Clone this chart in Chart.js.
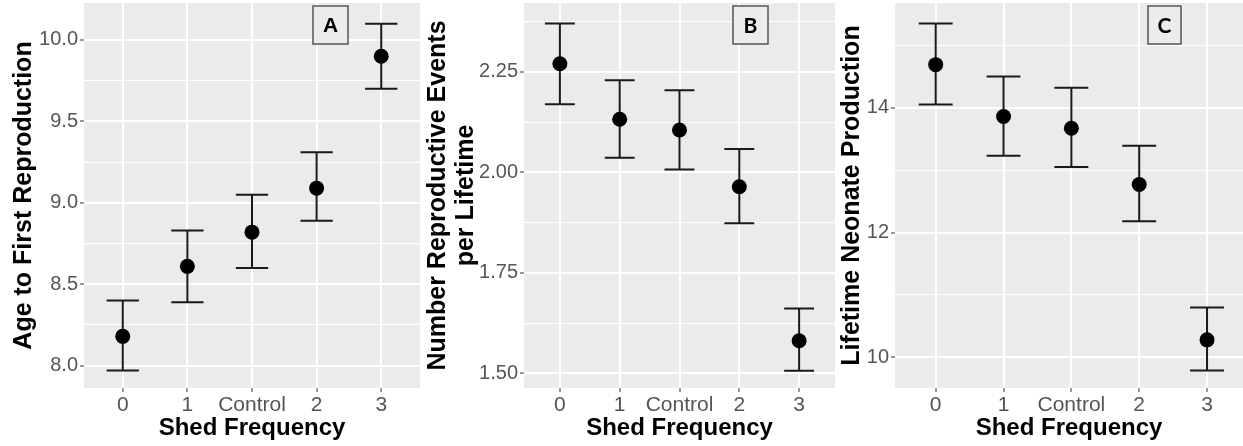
<!DOCTYPE html>
<html>
<head>
<meta charset="utf-8">
<script src="https://cdn.jsdelivr.net/npm/chart.js@4"></script>
<style>
  body { margin: 0; background: #fff; }
  .panel { position: absolute; top: 0; height: 446px; }
</style>
</head>
<body>
<div class="panel" style="left:0;width:420px"><canvas id="graphA"></canvas></div>
<div class="panel" style="left:420px;width:415px"><canvas id="graphB"></canvas></div>
<div class="panel" style="left:835px;width:408px"><canvas id="graphC"></canvas></div>
<script>
// groups on the x axis
const categories = ['0', '1', 'Control', '2', '3'];

// A - age to first reproduction (mean, upper and lower error bar)
const ageMean  = [8.18, 8.61, 8.82, 9.09, 9.90];
const ageUpper = [8.40, 8.83, 9.05, 9.31, 10.10];
const ageLower = [7.97, 8.39, 8.60, 8.89, 9.70];
const ageTicks = [8.0, 8.5, 9.0, 9.5, 10.0];
const ageMinor = [8.25, 8.75, 9.25, 9.75];

// B - reproductive events per lifetime
const eventsMean  = [2.270, 2.132, 2.105, 1.964, 1.581];
const eventsUpper = [2.370, 2.229, 2.204, 2.058, 1.661];
const eventsLower = [2.169, 2.036, 2.007, 1.873, 1.506];
const eventsTicks = [1.50, 1.75, 2.00, 2.25];
const eventsMinor = [1.625, 1.875, 2.125, 2.375];

// C - lifetime neonate production
const neonateMean  = [14.69, 13.86, 13.67, 12.77, 10.28];
const neonateUpper = [15.35, 14.50, 14.32, 13.39, 10.80];
const neonateLower = [14.05, 13.23, 13.05, 12.18, 9.79];
const neonateTicks = [10, 12, 14];
const neonateMinor = [11, 13, 15];

const FONT = "'Liberation Sans', Arial, sans-serif";

// grey panel, error bars and the letter box
const panelPlugin = {
  id: 'panel',
  beforeDraw(chart) {
    const a = chart.chartArea, ctx = chart.ctx;
    ctx.save();
    ctx.fillStyle = '#ebebeb';
    ctx.fillRect(a.left, a.top, a.right - a.left, a.bottom - a.top);
    ctx.restore();
  },
  beforeDatasetsDraw(chart, args, opts) {
    const xs = chart.scales.x, ys = chart.scales.y, ctx = chart.ctx;
    ctx.save();
    ctx.strokeStyle = '#1a1a1a';
    ctx.lineWidth = 2;
    opts.upper.forEach((hi, i) => {
      const lo = opts.lower[i];
      const x = xs.getPixelForValue(i);
      const x0 = xs.getPixelForValue(i - 0.25);
      const x1 = xs.getPixelForValue(i + 0.25);
      const yHi = ys.getPixelForValue(hi);
      const yLo = ys.getPixelForValue(lo);
      ctx.beginPath();
      ctx.moveTo(x0, yHi); ctx.lineTo(x1, yHi);
      ctx.moveTo(x, yHi); ctx.lineTo(x, yLo);
      ctx.moveTo(x0, yLo); ctx.lineTo(x1, yLo);
      ctx.stroke();
    });
    ctx.restore();
  },
  afterDraw(chart, args, opts) {
    const b = opts.box, ctx = chart.ctx;
    ctx.save();
    ctx.fillStyle = '#ececec';
    ctx.fillRect(b.x, b.y, b.w, b.h);
    ctx.strokeStyle = '#555';
    ctx.lineWidth = 1.5;
    ctx.strokeRect(b.x, b.y, b.w, b.h);
    ctx.fillStyle = '#000';
    ctx.font = b.font;
    ctx.textAlign = 'center';
    ctx.textBaseline = 'middle';
    ctx.fillText(b.text, b.x + b.w / 2, b.y + b.h / 2 + 1);
    ctx.restore();
  }
};

function makeChart(id, cfg) {
  const isMinor = v => cfg.minor.includes(v);
  return new Chart(document.getElementById(id).getContext('2d'), {
    type: 'scatter',
    data: {
      datasets: [{
        data: cfg.mean.map((v, i) => ({ x: i, y: v })),
        backgroundColor: '#000',
        borderWidth: 0,
        pointRadius: 7.5,
        pointHoverRadius: 7.5
      }]
    },
    options: {
      responsive: true,
      maintainAspectRatio: false,
      animation: false,
      events: [],
      layout: { autoPadding: false, padding: { top: 3, left: 0, right: 0, bottom: 0 } },
      plugins: {
        legend: { display: false },
        tooltip: { enabled: false },
        panel: { upper: cfg.upper, lower: cfg.lower, box: cfg.box }
      },
      scales: {
        x: {
          type: 'linear',
          min: -0.6,
          max: cfg.xMax,
          afterBuildTicks: s => { s.ticks = categories.map((c, i) => ({ value: i })); },
          afterFit: s => { s.height = 58; s.paddingLeft = 0; s.paddingRight = 0; },
          ticks: {
            callback: v => categories[v],
            font: { family: FONT, size: 21 },
            color: '#555',
            padding: 1,
            maxRotation: 0,
            autoSkip: false
          },
          grid: { color: '#fff', lineWidth: 2, tickLength: 4, tickColor: '#333', tickWidth: 1 },
          border: { display: false },
          title: {
            display: true,
            text: 'Shed Frequency',
            color: '#000',
            font: { family: FONT, size: 24, weight: 'bold' },
            padding: { top: 0, bottom: 3 }
          }
        },
        y: {
          min: cfg.yMin,
          max: cfg.yMax,
          afterBuildTicks: s => {
            s.ticks = cfg.major.concat(cfg.minor).sort((a, b) => a - b).map(v => ({ value: v }));
          },
          afterFit: s => { s.width = cfg.yWidth; s.paddingTop = 0; s.paddingBottom = 0; },
          ticks: {
            callback: v => isMinor(v) ? '' : v.toFixed(cfg.digits),
            font: { family: FONT, size: 20 },
            color: '#555',
            padding: 2,
            autoSkip: false
          },
          grid: {
            color: '#fff',
            lineWidth: c => isMinor(c.tick.value) ? 1 : 2,
            tickLength: 4,
            tickColor: c => isMinor(c.tick.value) ? 'rgba(0,0,0,0)' : '#333',
            tickWidth: 1
          },
          border: { display: false },
          title: {
            display: true,
            text: cfg.yTitle,
            color: '#000',
            font: { family: FONT, size: 25, weight: 'bold', lineHeight: cfg.yLine },
            padding: { top: cfg.yPad, bottom: 0 }
          }
        }
      }
    },
    plugins: [panelPlugin]
  });
}

makeChart('graphA', {
  mean: ageMean, upper: ageUpper, lower: ageLower,
  major: ageTicks, minor: ageMinor, digits: 1,
  yMin: 7.863, yMax: 10.227, xMax: 4.6, yWidth: 84,
  yTitle: 'Age to First Reproduction', yLine: 1.2, yPad: 9,
  box: { x: 313, y: 6, w: 35, h: 38, text: 'A', font: "bold 21px 'Liberation Sans', Arial, sans-serif" }
});

makeChart('graphB', {
  mean: eventsMean, upper: eventsUpper, lower: eventsLower,
  major: eventsTicks, minor: eventsMinor, digits: 2,
  yMin: 1.4634, yMax: 2.421, xMax: 4.6, yWidth: 104,
  yTitle: ['Number Reproductive Events', 'per Lifetime'], yLine: 1.12, yPad: 4,
  box: { x: 313, y: 6, w: 35, h: 38, text: 'B', font: "bold 21px Lato, 'Open Sans', sans-serif" }
});

makeChart('graphC', {
  mean: neonateMean, upper: neonateUpper, lower: neonateLower,
  major: neonateTicks, minor: neonateMinor, digits: 0,
  yMin: 9.508, yMax: 15.678, xMax: 4.53, yWidth: 60,
  yTitle: 'Lifetime Neonate Production', yLine: 1.2, yPad: 2,
  box: { x: 313, y: 6, w: 33, h: 38, text: 'C', font: "bold 21px Lato, 'Open Sans', sans-serif" }
});
</script>
</body>
</html>
